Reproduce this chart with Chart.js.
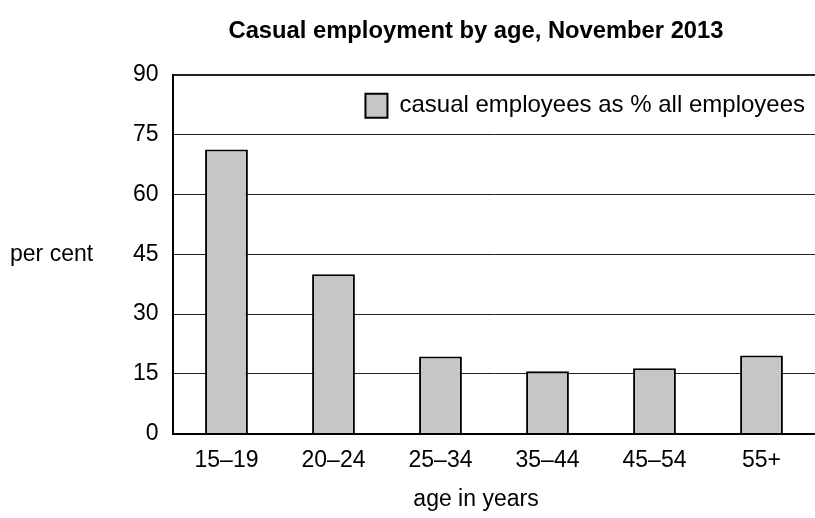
<!DOCTYPE html>
<html>
<head>
<meta charset="utf-8">
<title>Casual employment by age, November 2013</title>
<script src="https://cdn.jsdelivr.net/npm/chart.js@4/dist/chart.umd.min.js"></script>
<style>
    html, body { margin: 0; padding: 0; background: #fff; }
    #wrap { width: 815px; height: 518px; }
</style>
</head>
<body>
<div id="wrap"><canvas id="casualChart"></canvas></div>
<script>
// data
const ageGroups = ["15–19", "20–24", "25–34", "35–44", "45–54", "55+"];
const casualShare = [71.3, 40.0, 19.3, 15.6, 16.4, 19.6];
const seriesName = "casual employees as % all employees";
const yMin = 0;
const yMax = 90;
const yStep = 15;

const FONT = '"Liberation Sans", Arial, Helvetica, sans-serif';
Chart.defaults.font.family = FONT;
Chart.defaults.color = "#000";

// y label sits horizontally, level with the 45 tick
const sideLabel = {
    id: "sideLabel",
    afterDraw(chart) {
        const y = chart.scales.y;
        const ctx = chart.ctx;
        ctx.save();
        ctx.font = "23px " + FONT;
        ctx.fillStyle = "#000";
        ctx.textAlign = "left";
        ctx.textBaseline = "middle";
        ctx.fillText("per cent", 10, y.getPixelForValue(45));
        ctx.restore();
    }
};

// put the legend in the top right corner of the plot
const legendInPlot = {
    id: "legendInPlot",
    afterLayout(chart) {
        const lg = chart.legend;
        const ca = chart.chartArea;
        if (!lg) return;
        const w = lg.width, h = lg.height;
        lg.right = ca.right;
        lg.left = lg.right - w;
        lg.top = ca.top;
        lg.bottom = ca.top + h;
    }
};

// chart.js counts tick padding twice when sizing an axis
const trimPadding = scale => {
    if (scale.isHorizontal()) scale.height -= scale.options.ticks.padding;
    else scale.width -= scale.options.ticks.padding;
};

new Chart("casualChart", {
    type: "bar",
    data: {
        labels: ageGroups,
        datasets: [{
            label: seriesName,
            data: casualShare,
            backgroundColor: "#c6c6c6",
            borderColor: "#000",
            borderWidth: 2,
            barPercentage: 0.4,
            categoryPercentage: 1
        }]
    },
    options: {
        responsive: true,
        maintainAspectRatio: false,
        animation: false,
        layout: { padding: { left: 133, right: -4, top: 0, bottom: 0 } },
        plugins: {
            title: {
                display: true,
                text: "Casual employment by age, November 2013",
                color: "#000",
                font: { size: 23.75, weight: "bold" },
                padding: { top: 17, bottom: 29.5 }
            },
            subtitle: {
                display: true,
                position: "bottom",
                text: "age in years",
                color: "#000",
                font: { size: 23 },
                padding: { top: 12, bottom: 4.3 }
            },
            legend: {
                position: "chartArea",
                align: "start",
                title: { display: true, text: "", padding: 0, font: { size: 4 } },
                labels: {
                    boxWidth: 22,
                    boxHeight: 24,
                    padding: 14,
                    color: "#000",
                    font: { size: 24 }
                }
            },
            tooltip: { enabled: false }
        },
        scales: {
            x: {
                offset: true,
                grid: { display: false, drawTicks: false },
                border: { display: true, color: "#000", width: 2 },
                ticks: { padding: 13, color: "#000", font: { size: 23 } },
                afterFit: trimPadding
            },
            y: {
                min: yMin,
                max: yMax,
                ticks: { stepSize: yStep, padding: 14.4, color: "#000", font: { size: 23 } },
                grid: {
                    drawTicks: false,
                    color: "#222",
                    lineWidth: ctx => (ctx.tick && ctx.tick.value === yMax ? 2 : 1)
                },
                border: { display: true, color: "#000", width: 2 },
                afterFit: trimPadding
            }
        }
    },
    plugins: [sideLabel, legendInPlot]
});
</script>
</body>
</html>
